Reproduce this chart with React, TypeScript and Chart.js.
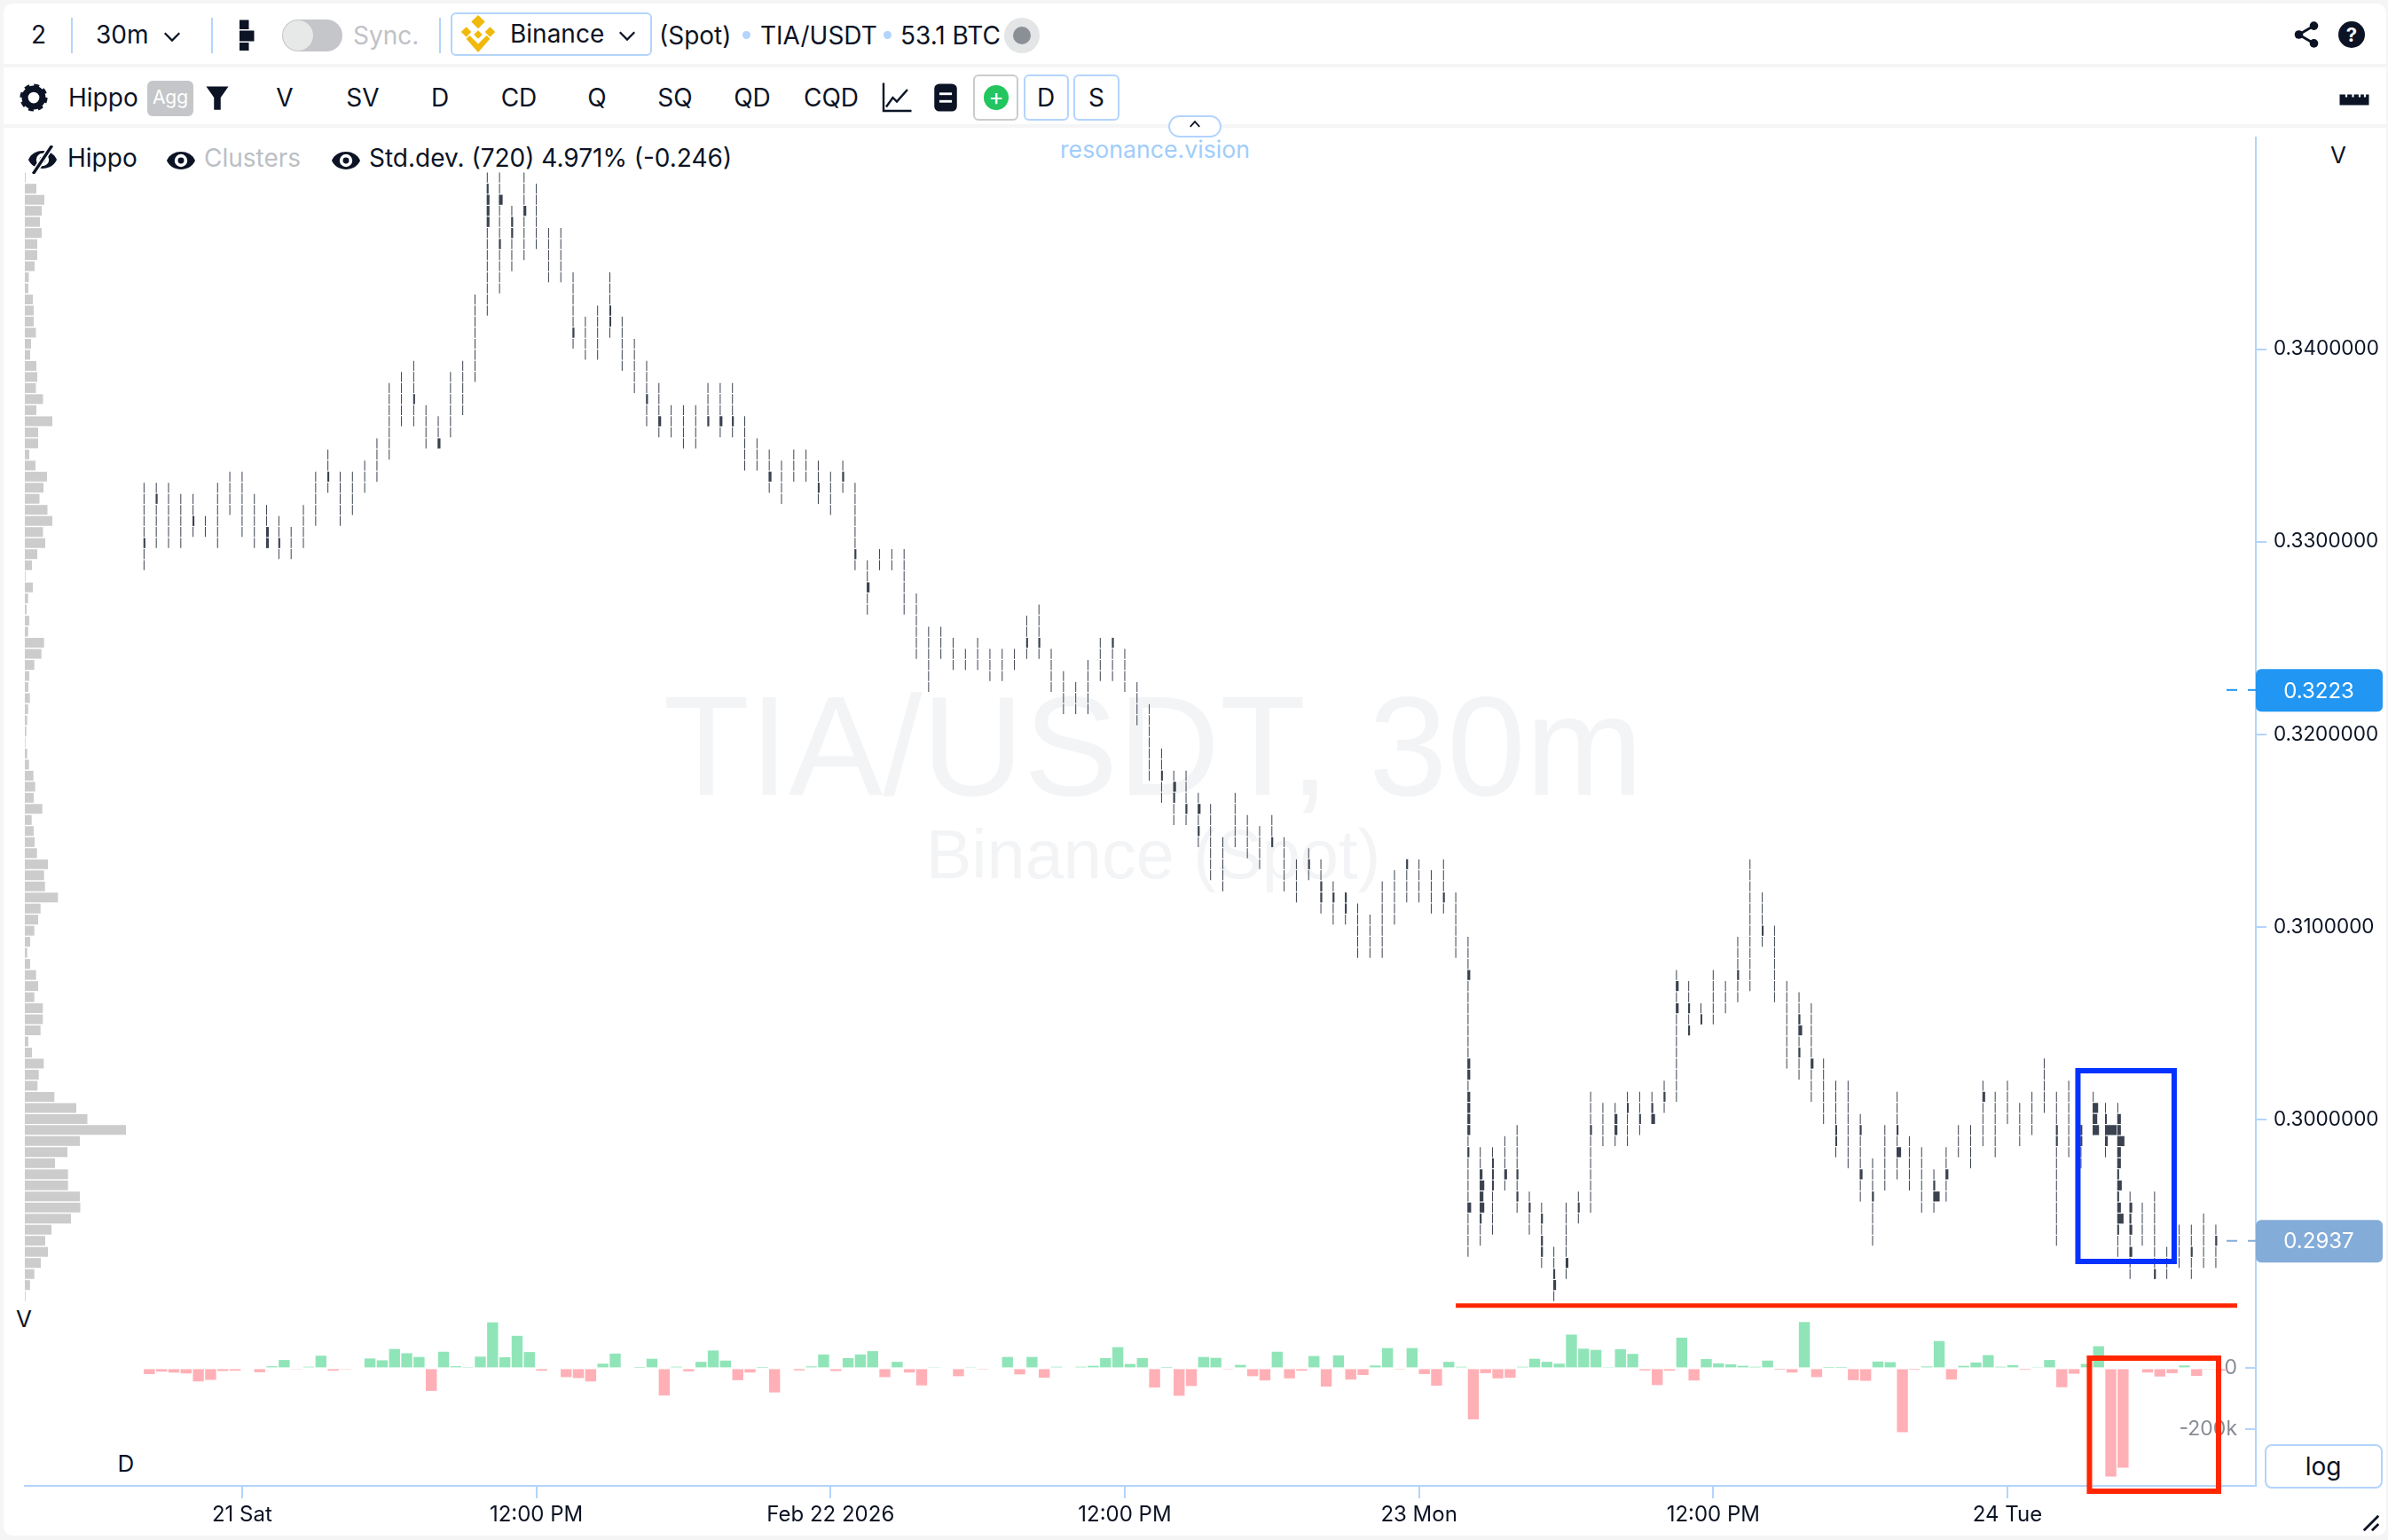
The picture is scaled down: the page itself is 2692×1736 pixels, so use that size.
import React, { useEffect, useRef } from "react";
import { Chart, registerables } from "chart.js";

Chart.register(...registerables);

// ---- data ----
const xTickIndex = [8, 32, 56, 80, 104, 128, 152];
const xTickLabels = ["21 Sat", "12:00 PM", "Feb 22 2026", "12:00 PM", "23 Mon", "12:00 PM", "24 Tue"];
const priceTicks = [0.3, 0.31, 0.32, 0.33, 0.34];
const deltaTicks = [0, -200000];
const lastPrices = [0.3223, 0.2937];

// cluster row of each candle's high and low, counted down from the top price level
const highLevels = [
  28, 28, 28, 29, 29, 31, 28, 27, 27, 29, 30, 31, 32, 30, 27, 25, 27, 27, 26, 24,
  19, 18, 17, 21, 22, 18, 17, 11, 0, 0, 3, 0, 1, 5, 5, 9, 13, 12, 9, 13,
  15, 17, 19, 21, 21, 21, 19, 19, 19, 22, 24, 25, 26, 25, 25, 26, 27, 26, 28, 35,
  34, 34, 34, 38, 41, 41, 42, 43, 42, 43, 43, 43, 40, 39, 43, 45, 46, 44, 42, 42,
  43, 46, 48, 52, 54, 54, 56, 57, 60, 56, 58, 59, 58, 60, 62, 61, 62, 64, 65, 66,
  67, 64, 63, 62, 62, 63, 62, 65, 69, 88, 88, 87, 86, 92, 93, 97, 93, 92, 83, 84,
  84, 83, 83, 83, 82, 72, 73, 75, 72, 73, 69, 62, 65, 68, 73, 74, 75, 80, 82, 82,
  85, 89, 86, 83, 87, 88, 90, 88, 86, 86, 82, 83, 82, 84, 83, 80, 83, 82, 86, 83,
  84, 84, 92, 93, 92, 97, 95, 95, 94, 95,
];
const lowLevels = [
  35, 33, 33, 33, 32, 32, 33, 30, 32, 33, 33, 34, 34, 33, 31, 28, 31, 30, 28, 27,
  25, 22, 22, 24, 24, 23, 21, 18, 12, 10, 8, 7, 6, 9, 9, 15, 16, 16, 14, 17,
  19, 22, 23, 23, 24, 24, 22, 23, 23, 26, 26, 28, 29, 27, 27, 29, 30, 28, 35, 39,
  35, 35, 39, 43, 46, 43, 44, 44, 44, 45, 45, 44, 43, 43, 46, 48, 48, 48, 45, 45,
  46, 49, 54, 56, 58, 58, 60, 63, 64, 60, 61, 62, 60, 64, 65, 63, 66, 67, 67, 70,
  70, 70, 67, 65, 65, 66, 66, 70, 97, 96, 95, 91, 93, 95, 98, 101, 99, 94, 93, 87,
  87, 87, 86, 85, 84, 83, 77, 76, 76, 75, 74, 73, 69, 74, 80, 81, 83, 85, 88, 89,
  92, 96, 91, 90, 91, 93, 93, 92, 88, 89, 87, 88, 85, 87, 86, 84, 96, 88, 89, 86,
  88, 97, 99, 96, 99, 99, 98, 99, 98, 98,
];
// heavier cluster cells: [candle, level, size]
const heavyCells = [
  [0, 33, 2], [1, 29, 2], [4, 31, 2], [10, 32, 3], [10, 33, 3], [11, 33, 2], [15, 27, 2], [22, 20, 2], [24, 24, 3],
  [28, 1, 2], [28, 2, 3], [28, 3, 3], [28, 4, 3], [29, 2, 4], [29, 6, 2], [30, 4, 2], [30, 5, 2], [31, 3, 3],
  [35, 14, 2], [38, 12, 2], [38, 13, 2], [41, 20, 2], [42, 22, 3], [46, 22, 2], [47, 22, 3], [48, 22, 2],
  [51, 27, 3], [55, 28, 2], [57, 27, 2], [58, 34, 2], [59, 37, 3], [72, 42, 2], [73, 42, 2], [79, 42, 2],
  [83, 54, 2], [84, 55, 3], [84, 56, 2], [85, 57, 2], [86, 57, 3], [86, 59, 2], [92, 60, 2], [95, 62, 2],
  [96, 64, 2], [96, 65, 2], [97, 65, 2], [98, 65, 2], [98, 66, 2], [103, 62, 2], [106, 65, 2],
  [108, 72, 3], [108, 80, 3], [108, 81, 3], [108, 83, 3], [108, 84, 3], [108, 85, 3], [108, 86, 3], [108, 88, 2], [108, 93, 4],
  [109, 90, 3], [109, 91, 5], [109, 92, 4], [109, 93, 5], [109, 94, 2], [110, 89, 2], [110, 90, 2], [110, 91, 2],
  [111, 90, 3], [112, 90, 2], [112, 92, 2], [113, 93, 2], [114, 94, 2], [114, 96, 2], [114, 97, 2],
  [115, 99, 2], [115, 100, 3], [116, 98, 3], [117, 93, 2], [118, 86, 2], [120, 85, 3], [120, 86, 3], [121, 84, 2],
  [122, 85, 2], [123, 84, 2], [123, 85, 4], [124, 83, 2], [125, 73, 3], [125, 75, 3], [126, 75, 2], [126, 77, 2],
  [127, 76, 2], [130, 72, 2], [132, 68, 2], [135, 76, 2], [135, 77, 4], [135, 79, 2], [136, 80, 3],
  [138, 86, 2], [138, 87, 2], [140, 86, 2], [140, 90, 3], [141, 92, 2], [143, 86, 2], [143, 88, 5],
  [146, 91, 2], [146, 92, 7], [147, 90, 3], [150, 83, 3], [156, 86, 2], [156, 87, 2], [158, 86, 2], [158, 87, 2],
  [159, 84, 6], [159, 85, 5], [159, 86, 7], [160, 85, 2], [160, 86, 13], [160, 87, 3],
  [161, 85, 4], [161, 86, 4], [161, 87, 8], [161, 88, 4], [161, 89, 4], [161, 90, 2], [161, 91, 5], [161, 92, 2],
  [161, 93, 4], [161, 94, 7], [161, 95, 2], [162, 93, 3], [162, 94, 2], [162, 95, 3], [162, 97, 3],
  [164, 99, 2], [167, 97, 2], [169, 96, 2],
];
// delta per candle, in thousands
const deltaValues = [
  -19, -11, -14, -17, -43, -38, -9, -8, -3, -13, 6.5, 27, -2, 5, 41, -8, -4, 0, 32, 26,
  63, 49, 37, -74, 54, 6.5, 4, 38, 150, 36, 106, 53, -8, 3, -29, -32, -43, 15, 48, -3,
  1, 31, -89, 5, -10, 21, 58, 25, -39, -14, 1, -79, 0, -7, 6, 45, -9, 33, 45, 56,
  -29, 21, -14, -56, 2, 3, -26, 2, -4, -3, 37, -20, 37, -31, 5, 3, 5, 8, 33, 69,
  14, 33, -63, 1, -90, -58, 37, 34, -4, 11, -26, -40, 54, -33, -8, 40, -60, 42, -37, -22,
  9, 66, -4, 66, -19, -57, 21, 5, -167, -16, -33, -31, 5, 31, 21, 15, 110, 64, 60, 2,
  62, 47, -7, -55, -8, 100, -40, 30, 16, 13, 8, 5, 25, -5, -14, 151, -29, 1, 1, -39,
  -41, 22, 20, -209, -5, 6, 89, -37, 8, 19, 43, 5, 10, -5, 2, 27, -62, -18, 14, 72,
  -354, -325, 0, -14, -27, -16, 9, -25, -2, -8,
];
// volume profile per cluster level
const profileVolumes = [
  1, 13, 22, 19, 17, 19, 14, 14, 11, 4.5, 4, 9, 10, 10, 12.5, 7, 6, 13, 14, 12.5,
  20.5, 13, 31, 15, 15, 5, 12, 25, 21, 16.5, 25.5, 31, 20.5, 23, 14, 8, 0.8, 9, 3.7, 2,
  5, 3.7, 21.7, 18.7, 10.7, 5, 4, 5.7, 3.7, 2.7, 1.7, 0.7, 2.7, 4.7, 9.7, 11.7, 10, 19.7, 7.7, 10,
  11, 13.7, 26, 21.7, 22.7, 37.3, 17.7, 15, 10.7, 6, 2.7, 6, 12.7, 15, 10.7, 20.3, 20.3, 17.7, 4, 8,
  21.3, 15.7, 14.3, 33.3, 58, 70.5, 114, 62, 48, 34, 48.7, 48.7, 62, 62.5, 52, 30, 23, 26, 18, 10.7,
  5.8, 0.8,
];
// drawn marks on the chart
const supportLineX = [107, 170.74];
const supportLinePrice = 0.29034;
const blueBoxX = [157.75, 165.6];
const blueBoxPrice = [0.302533, 0.29263];
const redBoxX = [158.69, 169.22];
const redBoxDelta = [33043, -401739];

// ---- mapping of the price levels ----
const TOP_LEVEL_PRICE = 0.34919;
const LEVEL_STEP = 0.000575;
const levelPrice = (l: number) => TOP_LEVEL_PRICE - l * LEVEL_STEP;
const PITCH = 13.82;

const BLUE = "#b3d4fc";
const INK = "#0b1324";

function Text(p: { x: number; y: number; s: string; size?: number; color?: string; weight?: number; center?: boolean; family?: string }) {
  return (
    <div
      style={{
        position: "absolute",
        left: p.x,
        top: p.y,
        transform: p.center ? "translate(-50%,-50%)" : "translateY(-50%)",
        fontSize: p.size ?? 28,
        color: p.color ?? INK,
        fontWeight: p.weight ?? 400,
        fontFamily: p.family,
        whiteSpace: "nowrap",
        lineHeight: 1,
      }}
    >
      {p.s}
    </div>
  );
}

function Box(p: { x: number; y: number; w: number; h: number; border?: string; bg?: string; r?: number; children?: any }) {
  return (
    <div
      style={{
        position: "absolute",
        left: p.x,
        top: p.y,
        width: p.w,
        height: p.h,
        boxSizing: "border-box",
        border: p.border ? `2px solid ${p.border}` : undefined,
        background: p.bg,
        borderRadius: p.r ?? 6,
      }}
    >
      {p.children}
    </div>
  );
}

function Icon(p: { x: number; y: number; size: number; children: any; vb?: string }) {
  return (
    <svg
      style={{ position: "absolute", left: p.x - p.size / 2, top: p.y - p.size / 2 }}
      width={p.size}
      height={p.size}
      viewBox={p.vb ?? "0 0 24 24"}
    >
      {p.children}
    </svg>
  );
}

const Eye = (p: { x: number; y: number }) => (
  <Icon x={p.x} y={p.y} size={32}>
    <path d="M0 12C4 2 20 2 24 12C20 22 4 22 0 12Z" fill={INK} />
    <circle cx="12" cy="12" r="5.4" fill="#fff" />
    <circle cx="12" cy="12" r="2.6" fill={INK} />
  </Icon>
);

const Chevron = (p: { x: number; y: number }) => (
  <Icon x={p.x} y={p.y} size={22}>
    <path d="M3 8L12 17L21 8" fill="none" stroke={INK} strokeWidth="2.4" />
  </Icon>
);

const Sep = (p: { x: number; y: number; h: number }) => (
  <div style={{ position: "absolute", left: p.x, top: p.y, width: 2, height: p.h, background: BLUE }} />
);

export default function App() {
  const ref = useRef<HTMLCanvasElement | null>(null);

  useEffect(() => {
    if (!ref.current) return;
    const rowCells: any[] = [];
    highLevels.forEach((h, i) => {
      for (let l = h; l <= lowLevels[i]; l++) {
        rowCells.push({ x: i, y: [levelPrice(l + 0.05), levelPrice(l + 0.95)] });
      }
    });
    const sizes = Array.from(new Set(heavyCells.map((c) => c[2])));
    const heavyDatasets = sizes.map((w) => ({
      type: "bar" as const,
      order: 3,
      xAxisID: "x",
      yAxisID: "y",
      grouped: false,
      barThickness: w,
      inflateAmount: 0,
      backgroundColor: "#3b424f",
      data: heavyCells
        .filter((c) => c[2] === w)
        .map((c) => ({
          x: c[0] + (w - 1) / 2 / PITCH,
          y: [levelPrice(c[1] + 0.05), levelPrice(c[1] + 0.95)],
        })),
    }));

    const fixedWidth = (w: number) => (s: any) => {
      s.width = w;
    };

    const chart = new Chart(ref.current, {
      type: "bar",
      data: {
        datasets: [
          {
            type: "line",
            order: 0,
            xAxisID: "x",
            yAxisID: "y",
            clip: false,
            borderColor: "#ff2600",
            borderWidth: 5,
            pointRadius: 0,
            data: supportLineX.map((x) => ({ x, y: supportLinePrice })),
          },
          {
            type: "line",
            order: 0,
            xAxisID: "x",
            yAxisID: "y",
            clip: false,
            borderColor: "#0433ff",
            borderWidth: 6,
            borderJoinStyle: "miter",
            borderCapStyle: "square",
            pointRadius: 0,
            data: [
              { x: blueBoxX[0], y: blueBoxPrice[0] },
              { x: blueBoxX[1], y: blueBoxPrice[0] },
              { x: blueBoxX[1], y: blueBoxPrice[1] },
              { x: blueBoxX[0], y: blueBoxPrice[1] },
              { x: blueBoxX[0], y: blueBoxPrice[0] },
            ],
          },
          {
            type: "line",
            order: 0,
            xAxisID: "x",
            yAxisID: "yD",
            clip: false,
            borderColor: "#ff2600",
            borderWidth: 6,
            borderJoinStyle: "miter",
            borderCapStyle: "square",
            pointRadius: 0,
            data: [
              { x: redBoxX[0], y: redBoxDelta[0] },
              { x: redBoxX[1], y: redBoxDelta[0] },
              { x: redBoxX[1], y: redBoxDelta[1] },
              { x: redBoxX[0], y: redBoxDelta[1] },
              { x: redBoxX[0], y: redBoxDelta[0] },
            ],
          },
          ...heavyDatasets,
          {
            type: "bar",
            order: 4,
            xAxisID: "x",
            yAxisID: "y",
            grouped: false,
            barThickness: 1,
            inflateAmount: 0,
            backgroundColor: "#3b424f",
            data: rowCells,
          },
          {
            type: "bar",
            order: 5,
            xAxisID: "x",
            yAxisID: "yD",
            grouped: false,
            barThickness: 12.4,
            inflateAmount: 0,
            backgroundColor: deltaValues.map((v) => (v >= 0 ? "#90e5b8" : "#ffb0b6")),
            data: deltaValues.map((v, i) => ({ x: i + 6 / PITCH, y: v * 1000 })),
          },
          {
            type: "bar",
            order: 6,
            indexAxis: "y",
            xAxisID: "xProfile",
            yAxisID: "y",
            grouped: false,
            barThickness: 11,
            inflateAmount: 0,
            backgroundColor: "#cccccc",
            data: profileVolumes.map((v, l) => ({ x: v, y: levelPrice(l + 0.5) })),
          },
        ] as any,
      },
      options: {
        animation: false,
        responsive: false,
        devicePixelRatio: 1,
        events: [],
        layout: { padding: { left: 28, top: 155, right: 0, bottom: 0 } },
        plugins: { legend: { display: false }, tooltip: { enabled: false } },
        scales: {
          x: {
            type: "linear",
            position: "bottom",
            offset: false,
            min: (28 - 162.35) / PITCH,
            max: (2543 - 162.35) / PITCH,
            afterFit: (s: any) => {
              s.height = 61;
            },
            afterBuildTicks: (s: any) => {
              s.ticks = xTickIndex.map((value) => ({ value }));
            },
            border: { color: BLUE, width: 2 },
            grid: { offset: false, drawOnChartArea: false, color: BLUE, lineWidth: 2, tickLength: 14 },
            ticks: {
              autoSkip: false,
              maxRotation: 0,
              padding: 4,
              color: INK,
              font: { family: "Inter", size: 24 },
              callback: (v: any) => xTickLabels[xTickIndex.indexOf(Number(v))] ?? "",
            },
          },
          xProfile: {
            type: "linear",
            axis: "x",
            display: false,
            offset: false,
            min: 0,
            max: 2515,
            grid: { offset: false },
          },
          y: {
            type: "linear",
            position: "right",
            weight: 1,
            offset: false,
            min: 0.280977,
            max: 0.350986,
            afterFit: fixedWidth(149),
            afterBuildTicks: (s: any) => {
              s.ticks = priceTicks.map((value) => ({ value }));
            },
            border: { color: BLUE, width: 2 },
            grid: { offset: false, drawOnChartArea: false, color: BLUE, lineWidth: 2, tickLength: 12 },
            ticks: {
              padding: 8,
              color: INK,
              font: { family: "Inter", size: 22.5 },
              callback: (v: any) => Number(v).toFixed(7),
            },
          },
          yD: {
            type: "linear",
            axis: "y",
            position: "right",
            weight: 0,
            offset: false,
            min: -384348,
            max: 4021449,
            afterFit: fixedWidth(0),
            afterBuildTicks: (s: any) => {
              s.ticks = deltaTicks.map((value) => ({ value }));
            },
            border: { display: false },
            grid: { offset: false, drawOnChartArea: false, color: BLUE, lineWidth: 2, tickLength: -12 },
            ticks: {
              mirror: true,
              padding: -21,
              color: "#878b94",
              font: { family: "Inter", size: 23 },
              callback: (v: any) => (Number(v) === 0 ? "0" : Number(v) / 1000 + "k"),
            },
          },
        },
      },
      plugins: [
        {
          id: "priceTags",
          afterDraw(c: any) {
            const ctx = c.ctx;
            const s = c.scales.y;
            lastPrices.forEach((p, i) => {
              const y = s.getPixelForValue(p);
              const col = i === 0 ? "#2196f3" : "#84acd9";
              ctx.save();
              ctx.fillStyle = col;
              ctx.beginPath();
              ctx.roundRect(2543, y - 23.5, 143, 48, 6);
              ctx.fill();
              ctx.fillRect(2510, y - 1, 12, 2);
              ctx.fillRect(2534, y - 1, 9, 2);
              ctx.fillStyle = "#fff";
              ctx.font = "24px Inter";
              ctx.textAlign = "center";
              ctx.textBaseline = "middle";
              ctx.fillText(p.toFixed(4), 2614, y + 1.5);
              ctx.restore();
            });
          },
        },
      ],
    } as any);
    return () => chart.destroy();
  }, []);

  const Arial = "'Liberation Sans', Arial, sans-serif";

  return (
    <div
      style={{
        position: "absolute",
        left: 0,
        top: 0,
        width: 2692,
        height: 1736,
        background: "#f5f5f5",
        overflow: "hidden",
        fontFamily: "Inter, sans-serif",
      }}
    >
      <div style={{ position: "absolute", left: 4, top: 4, width: 2686, height: 1727, background: "#fff", borderRadius: 10 }} />
      <div style={{ position: "absolute", left: 4, top: 72, width: 2686, height: 4, background: "#f5f5f5" }} />
      <div style={{ position: "absolute", left: 4, top: 140, width: 2686, height: 4, background: "#f5f5f5" }} />

      {/* watermark */}
      <Text x={1300} y={841} s="TIA/USDT, 30m" size={159} color="#f3f4f6" center family={Arial} />
      <Text x={1300} y={964} s="Binance (Spot)" size={77.5} color="#f3f4f6" center family={Arial} />

      {/* top toolbar */}
      <Text x={35} y={39} s="2" />
      <Sep x={80} y={20} h={40} />
      <Text x={108} y={39} s="30m" />
      <Chevron x={194} y={41} />
      <Sep x={238} y={20} h={40} />
      <Icon x={276} y={39} size={36}>
        <rect x="8" y="1" width="7" height="7" fill={INK} />
        <rect x="8" y="9" width="11" height="8" fill={INK} />
        <rect x="8" y="18" width="7" height="6" fill={INK} />
      </Icon>
      <div style={{ position: "absolute", left: 318, top: 22, width: 68, height: 36, borderRadius: 18, background: "#c4c6c9" }} />
      <div style={{ position: "absolute", left: 319, top: 23, width: 34, height: 34, borderRadius: 17, background: "#e7e9e8" }} />
      <Text x={398} y={40} s="Sync." color="#c0c2c6" />
      <Sep x={495} y={20} h={40} />
      <Box x={508} y={14} w={227} h={49} border={BLUE} />
      <Icon x={539} y={38} size={46}>
        <path d="M12 1L16 5L12 9L8 5Z M5 8L8 11L5 14L2 11Z M19 8L22 11L19 14L16 11Z M12 10L14.5 12.5L12 15L9.5 12.5Z M7 13L12 18L17 13L19 15L12 23L5 15Z" fill="#f0b90b" />
      </Icon>
      <Text x={575} y={38} s="Binance" />
      <Chevron x={707} y={40} />
      <Text x={743} y={40} s="(Spot)" />
      <div style={{ position: "absolute", left: 837, top: 35, width: 9, height: 9, borderRadius: 5, background: BLUE }} />
      <Text x={857} y={40} s="TIA/USDT" />
      <div style={{ position: "absolute", left: 996, top: 35, width: 9, height: 9, borderRadius: 5, background: BLUE }} />
      <Text x={1015} y={40} s="53.1 BTC" />
      <div style={{ position: "absolute", left: 1132, top: 20, width: 40, height: 40, borderRadius: 20, background: "#e3e5e6" }} />
      <div style={{ position: "absolute", left: 1142, top: 30, width: 20, height: 20, borderRadius: 10, background: "#8b8f96" }} />
      <Icon x={2600} y={39} size={34}>
        <circle cx="18" cy="5" r="3.4" fill={INK} />
        <circle cx="6" cy="12" r="3.4" fill={INK} />
        <circle cx="18" cy="19" r="3.4" fill={INK} />
        <path d="M18 5L6 12L18 19" fill="none" stroke={INK} strokeWidth="2" />
      </Icon>
      <div style={{ position: "absolute", left: 2636, top: 24, width: 30, height: 30, borderRadius: 15, background: INK, color: "#fff", fontSize: 22, fontWeight: 700, textAlign: "center", lineHeight: "30px" }}>?</div>

      {/* second toolbar */}
      <Icon x={38} y={110} size={34}>
        <circle cx="12" cy="12" r="7" fill="none" stroke={INK} strokeWidth="5" />
        <circle cx="12" cy="12" r="9.5" fill="none" stroke={INK} strokeWidth="3" strokeDasharray="4 3.45" />
      </Icon>
      <Text x={77} y={110} s="Hippo" />
      <Box x={166} y={91} w={52} h={40} bg="#c4c6c9">
        <div style={{ color: "#fff", fontSize: 21, textAlign: "center", lineHeight: "38px" }}>Agg</div>
      </Box>
      <Icon x={245} y={110} size={30}>
        <path d="M2 2H22L15 12V23H9V12Z" fill={INK} />
      </Icon>
      <Text x={321} y={110} s="V" center />
      <Text x={409} y={110} s="SV" center />
      <Text x={496} y={110} s="D" center />
      <Text x={585} y={110} s="CD" center />
      <Text x={673} y={110} s="Q" center />
      <Text x={761} y={110} s="SQ" center />
      <Text x={848} y={110} s="QD" center />
      <Text x={937} y={110} s="CQD" center />
      <Icon x={1011} y={110} size={36}>
        <path d="M2 1V22H23" fill="none" stroke={INK} strokeWidth="1.6" />
        <path d="M4 19L9 12L12 15L20 6" fill="none" stroke={INK} strokeWidth="1.6" />
      </Icon>
      <Icon x={1066} y={110} size={34}>
        <rect x="3" y="1" width="18" height="22" rx="4" fill={INK} />
        <rect x="7" y="8" width="10" height="2" fill="#fff" />
        <rect x="7" y="14" width="10" height="2" fill="#fff" />
      </Icon>
      <Box x={1097} y={84} w={51} h={52} border="#c9cbcd" />
      <div style={{ position: "absolute", left: 1109, top: 96, width: 28, height: 28, borderRadius: 14, background: "#22c55e", color: "#fff", fontSize: 26, textAlign: "center", lineHeight: "26px" }}>+</div>
      <Box x={1154} y={84} w={51} h={52} border={BLUE} />
      <Text x={1179} y={110} s="D" center />
      <Box x={1210} y={84} w={52} h={52} border={BLUE} />
      <Text x={1236} y={110} s="S" center />
      <Icon x={2654} y={111} size={36}>
        <path d="M1 9H23V17H1Z" fill={INK} />
        <path d="M6 7V11M11 7V11M16 7V11M20 7V11" stroke="#fff" strokeWidth="1.5" />
      </Icon>
      <div style={{ position: "absolute", left: 1317, top: 130, width: 60, height: 25, borderRadius: 13, border: `2px solid ${BLUE}`, background: "#fff", boxSizing: "border-box" }} />
      <Icon x={1347} y={140} size={14}>
        <path d="M3 17L12 7L21 17" fill="none" stroke={INK} strokeWidth="3" />
      </Icon>
      <Text x={1195} y={168} s="resonance.vision" size={26.7} color="#a0cdfb" />

      {/* third row */}
      <Eye x={48} y={180} />
      <Icon x={48} y={180} size={32}>
        <path d="M4 24L20 0" stroke="#fff" strokeWidth="5" />
        <path d="M4 24L20 0" stroke={INK} strokeWidth="2.5" />
      </Icon>
      <Text x={76} y={178} s="Hippo" />
      <Eye x={204} y={181} />
      <Text x={230} y={178} s="Clusters" color="#bcbfc4" />
      <Eye x={390} y={181} />
      <Text x={416} y={178} s="Std.dev. (720) 4.971% (-0.246)" />
      <Text x={2636} y={175} s="V" center size={26} />
      <Text x={27} y={1487} s="V" center size={26} />
      <Text x={142} y={1650} s="D" center size={26} />

      <canvas ref={ref} width={2692} height={1736} style={{ position: "absolute", left: 0, top: 0, display: "block" }} />

      {/* log button and resize handle */}
      <Box x={2553} y={1628} w={133} h={50} border={BLUE} bg="#fff" r={8} />
      <Text x={2619} y={1653} s="log" center />
      <Icon x={2673} y={1717} size={22}>
        <path d="M3 21L21 3M13 21L21 13" stroke={INK} strokeWidth="3" />
      </Icon>
    </div>
  );
}
